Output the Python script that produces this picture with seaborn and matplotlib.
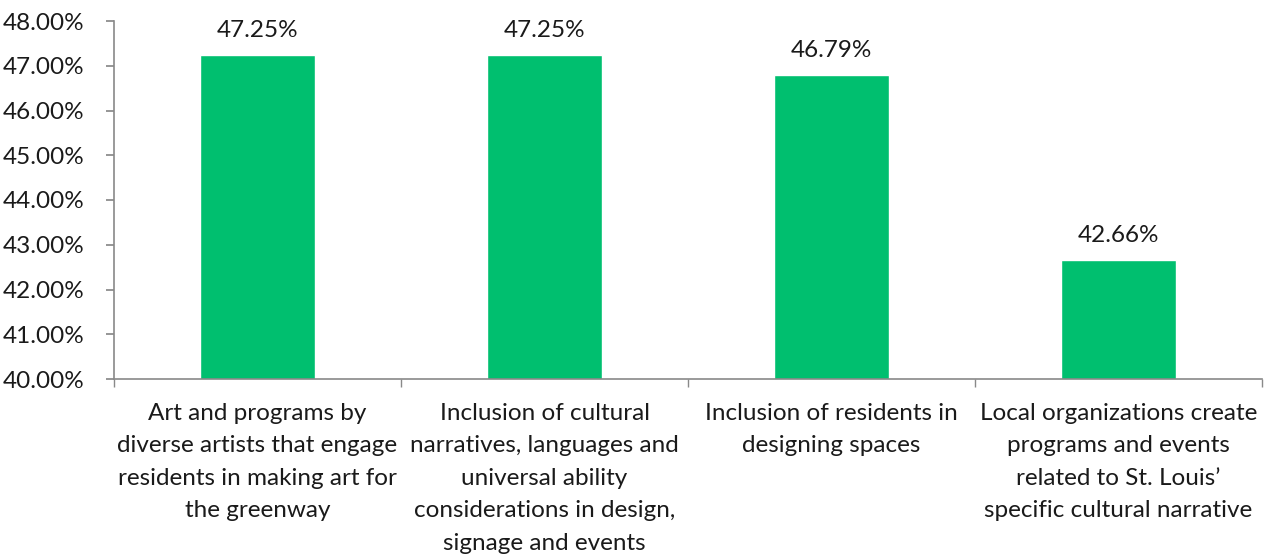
import matplotlib
matplotlib.use("Agg")
import matplotlib.pyplot as plt
import seaborn as sns
import pandas as pd
from matplotlib.ticker import FuncFormatter, FixedLocator

categories = [
    "Art and programs by\ndiverse artists that engage\nresidents in making art for\nthe greenway",
    "Inclusion of cultural\nnarratives, languages and\nuniversal ability\nconsiderations in design,\nsignage and events",
    "Inclusion of residents in\ndesigning spaces",
    "Local organizations create\nprograms and events\nrelated to St. Louis\u2019\nspecific cultural narrative",
]
values = [47.25, 47.25, 46.79, 42.66]
y_ticks = [40, 41, 42, 43, 44, 45, 46, 47, 48]

sns.set_theme(style="white")
plt.rcParams['font.family'] = ['Lato', 'DejaVu Sans']

FS = 17.5
df = pd.DataFrame({"cat": categories, "val": values})

fig = plt.figure(figsize=(12.75, 5.55), dpi=100)
ax = fig.add_axes([114/1275, 1-379/555, (1262-114)/1275, (379-21)/555])

sns.barplot(data=df, x="cat", y="val", color="#00BF6F", saturation=1, width=0.4, ax=ax)

ax.set_ylim(40, 48)
ax.set_xlim(-0.5, len(categories)-0.5)
ax.yaxis.set_major_locator(FixedLocator(y_ticks))
ax.yaxis.set_major_formatter(FuncFormatter(lambda v, p: f"{v:.2f}%"))
ax.set_xlabel("")
ax.set_ylabel("")

for i, v in enumerate(values):
    ax.annotate(f"{v:.2f}%", (i, v), xytext=(0, 10), textcoords="offset points",
                ha="center", va="bottom", fontsize=FS, color="#1a1a1a")

for s in ["top", "right"]:
    ax.spines[s].set_visible(False)
for s in ["left", "bottom"]:
    ax.spines[s].set_color("#898989")
    ax.spines[s].set_linewidth(1.2)

ax.tick_params(axis="y", which="major", left=True, length=6, color="#898989", labelsize=FS, labelcolor="#1a1a1a", pad=15)
ax.tick_params(axis="x", which="major", length=0, labelsize=FS, labelcolor="#1a1a1a", pad=17)
ax.set_xticks([i - 0.5 for i in range(len(categories)+1)], minor=True)
ax.tick_params(axis="x", which="minor", bottom=True, length=6, color="#898989", width=1)
for lbl in ax.get_xticklabels():
    lbl.set_linespacing(1.68)
    lbl.set_ha("center")

fig.savefig("out.png", dpi=100)
